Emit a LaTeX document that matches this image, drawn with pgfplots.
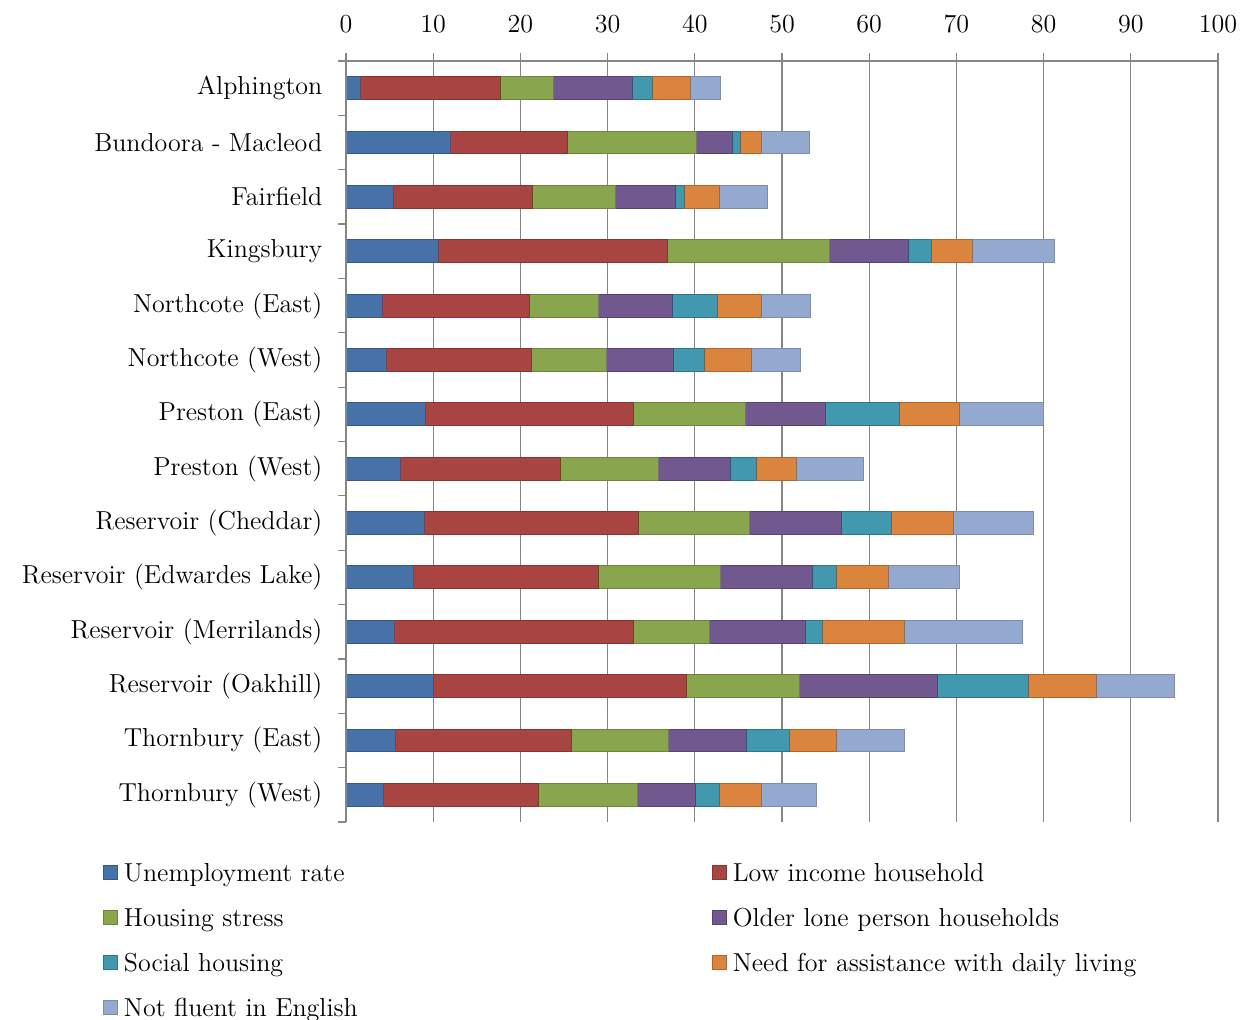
\documentclass[border=0pt]{standalone}
\usepackage{pgfplots}
\usepackage{pgfplotstable}
\pgfplotsset{compat=1.18}

% series colours (fill / edge)
\definecolor{cUn}{HTML}{4672A7}\definecolor{cUnD}{HTML}{35598A}
\definecolor{cLi}{HTML}{A84543}\definecolor{cLiD}{HTML}{8A3432}
\definecolor{cHs}{HTML}{89A54E}\definecolor{cHsD}{HTML}{6C8639}
\definecolor{cOl}{HTML}{71588F}\definecolor{cOlD}{HTML}{564270}
\definecolor{cSh}{HTML}{4198AF}\definecolor{cShD}{HTML}{2E7689}
\definecolor{cNa}{HTML}{DB843D}\definecolor{cNaD}{HTML}{B2652A}
\definecolor{cNf}{HTML}{93A9CF}\definecolor{cNfD}{HTML}{7A8DB0}
\definecolor{gridgray}{RGB}{134,134,134}

% pos: 13 = top row (Alphington) ... 0 = bottom row (Thornbury (West))
\pgfplotstableread{
pos ue   li   hs   ol   sh   na   nf
13  1.7  16.0 6.1  9.0  2.3  4.4  3.4
12  12.0 13.4 14.8 4.1  0.9  2.5  5.4
11  5.4  16.0 9.5  6.9  1.0  4.0  5.5
10  10.6 26.3 18.5 9.1  2.6  4.8  9.4
9   4.2  16.9 7.9  8.4  5.2  5.0  5.7
8   4.7  16.6 8.6  7.6  3.6  5.4  5.6
7   9.1  23.9 12.8 9.2  8.5  6.9  9.6
6   6.2  18.4 11.2 8.3  3.0  4.6  7.6
5   9.0  24.6 12.7 10.5 5.8  7.1  9.1
4   7.7  21.3 13.9 10.6 2.7  6.0  8.1
3   5.6  27.4 8.7  11.0 2.0  9.4  13.5
2   10.0 29.1 12.9 15.8 10.5 7.8  8.9
1   5.7  20.2 11.1 8.9  5.0  5.4  7.7
0   4.3  17.8 11.3 6.7  2.7  4.9  6.2
}\data

\newcommand{\lab}{\fontsize{13}{15.5}\selectfont}

\begin{document}
\begin{tikzpicture}
\useasboundingbox (0,0) rectangle (621pt,509.5pt);
\begin{axis}[
  at={(173pt,98.5pt)}, anchor=south west,
  scale only axis, width=436pt, height=380.5pt,
  xbar stacked, bar width=0.42,
  xmin=0, xmax=100, ymin=-0.5, ymax=13.5,
  axis line style={draw=none},
  xtick={0,10,...,100},
  xtick pos=right, xticklabel pos=right,
  ytick pos=left,
  xmajorgrids, grid style={draw=gridgray, line width=0.6pt},
  ytick={0,...,13},
  yticklabels={Thornbury (West), Thornbury (East), Reservoir (Oakhill),
    Reservoir (Merrilands), Reservoir (Edwardes Lake), Reservoir (Cheddar),
    Preston (West), Preston (East), Northcote (West), Northcote (East),
    Kingsbury, Fairfield, Bundoora - Macleod, Alphington},
  minor ytick={-0.5,0.5,...,13.5},
  tick align=outside,
  major tick length=4pt, minor tick length=4pt,
  tick style={draw=gridgray, line width=0.6pt},
  major y tick style={draw=none},
  /pgf/number format/assume math mode=true,
  xticklabel style={font=\lab, yshift=6.5pt},
  yticklabel style={font=\lab, xshift=-4.3pt},
  legend columns=2,
  legend cell align=left,
  legend image code/.code={\draw[#1, line width=0.5pt] (0pt,-3.5pt) rectangle (7pt,3.5pt);},
  legend style={at={(-0.2787,-0.0499)}, anchor=north west, draw=none, fill=none,
    inner sep=0pt, outer sep=0pt, font=\lab, row sep=10pt, column sep=0pt,
    nodes={inner sep=0pt, text height=11pt, text depth=1.5pt},
    /tikz/every odd column/.append style={column sep=3pt},
    /tikz/column 2/.style={column sep=177pt}},
]
% top and left axis lines
\draw[gridgray, line width=0.6pt] (rel axis cs:0,0) -- (rel axis cs:0,1) -- (rel axis cs:1,1);
\addplot[fill=cUn, draw=cUnD, line width=0.5pt] table[x=ue, y=pos]{\data};
\addplot[fill=cLi, draw=cLiD, line width=0.5pt] table[x=li, y=pos]{\data};
\addplot[fill=cHs, draw=cHsD, line width=0.5pt] table[x=hs, y=pos]{\data};
\addplot[fill=cOl, draw=cOlD, line width=0.5pt] table[x=ol, y=pos]{\data};
\addplot[fill=cSh, draw=cShD, line width=0.5pt] table[x=sh, y=pos]{\data};
\addplot[fill=cNa, draw=cNaD, line width=0.5pt] table[x=na, y=pos]{\data};
\addplot[fill=cNf, draw=cNfD, line width=0.5pt] table[x=nf, y=pos]{\data};
\legend{Unemployment rate, Low income household, Housing stress,
  Older lone person households, Social housing,
  Need for assistance with daily living, Not fluent in English}
\end{axis}
\end{tikzpicture}
\end{document}
